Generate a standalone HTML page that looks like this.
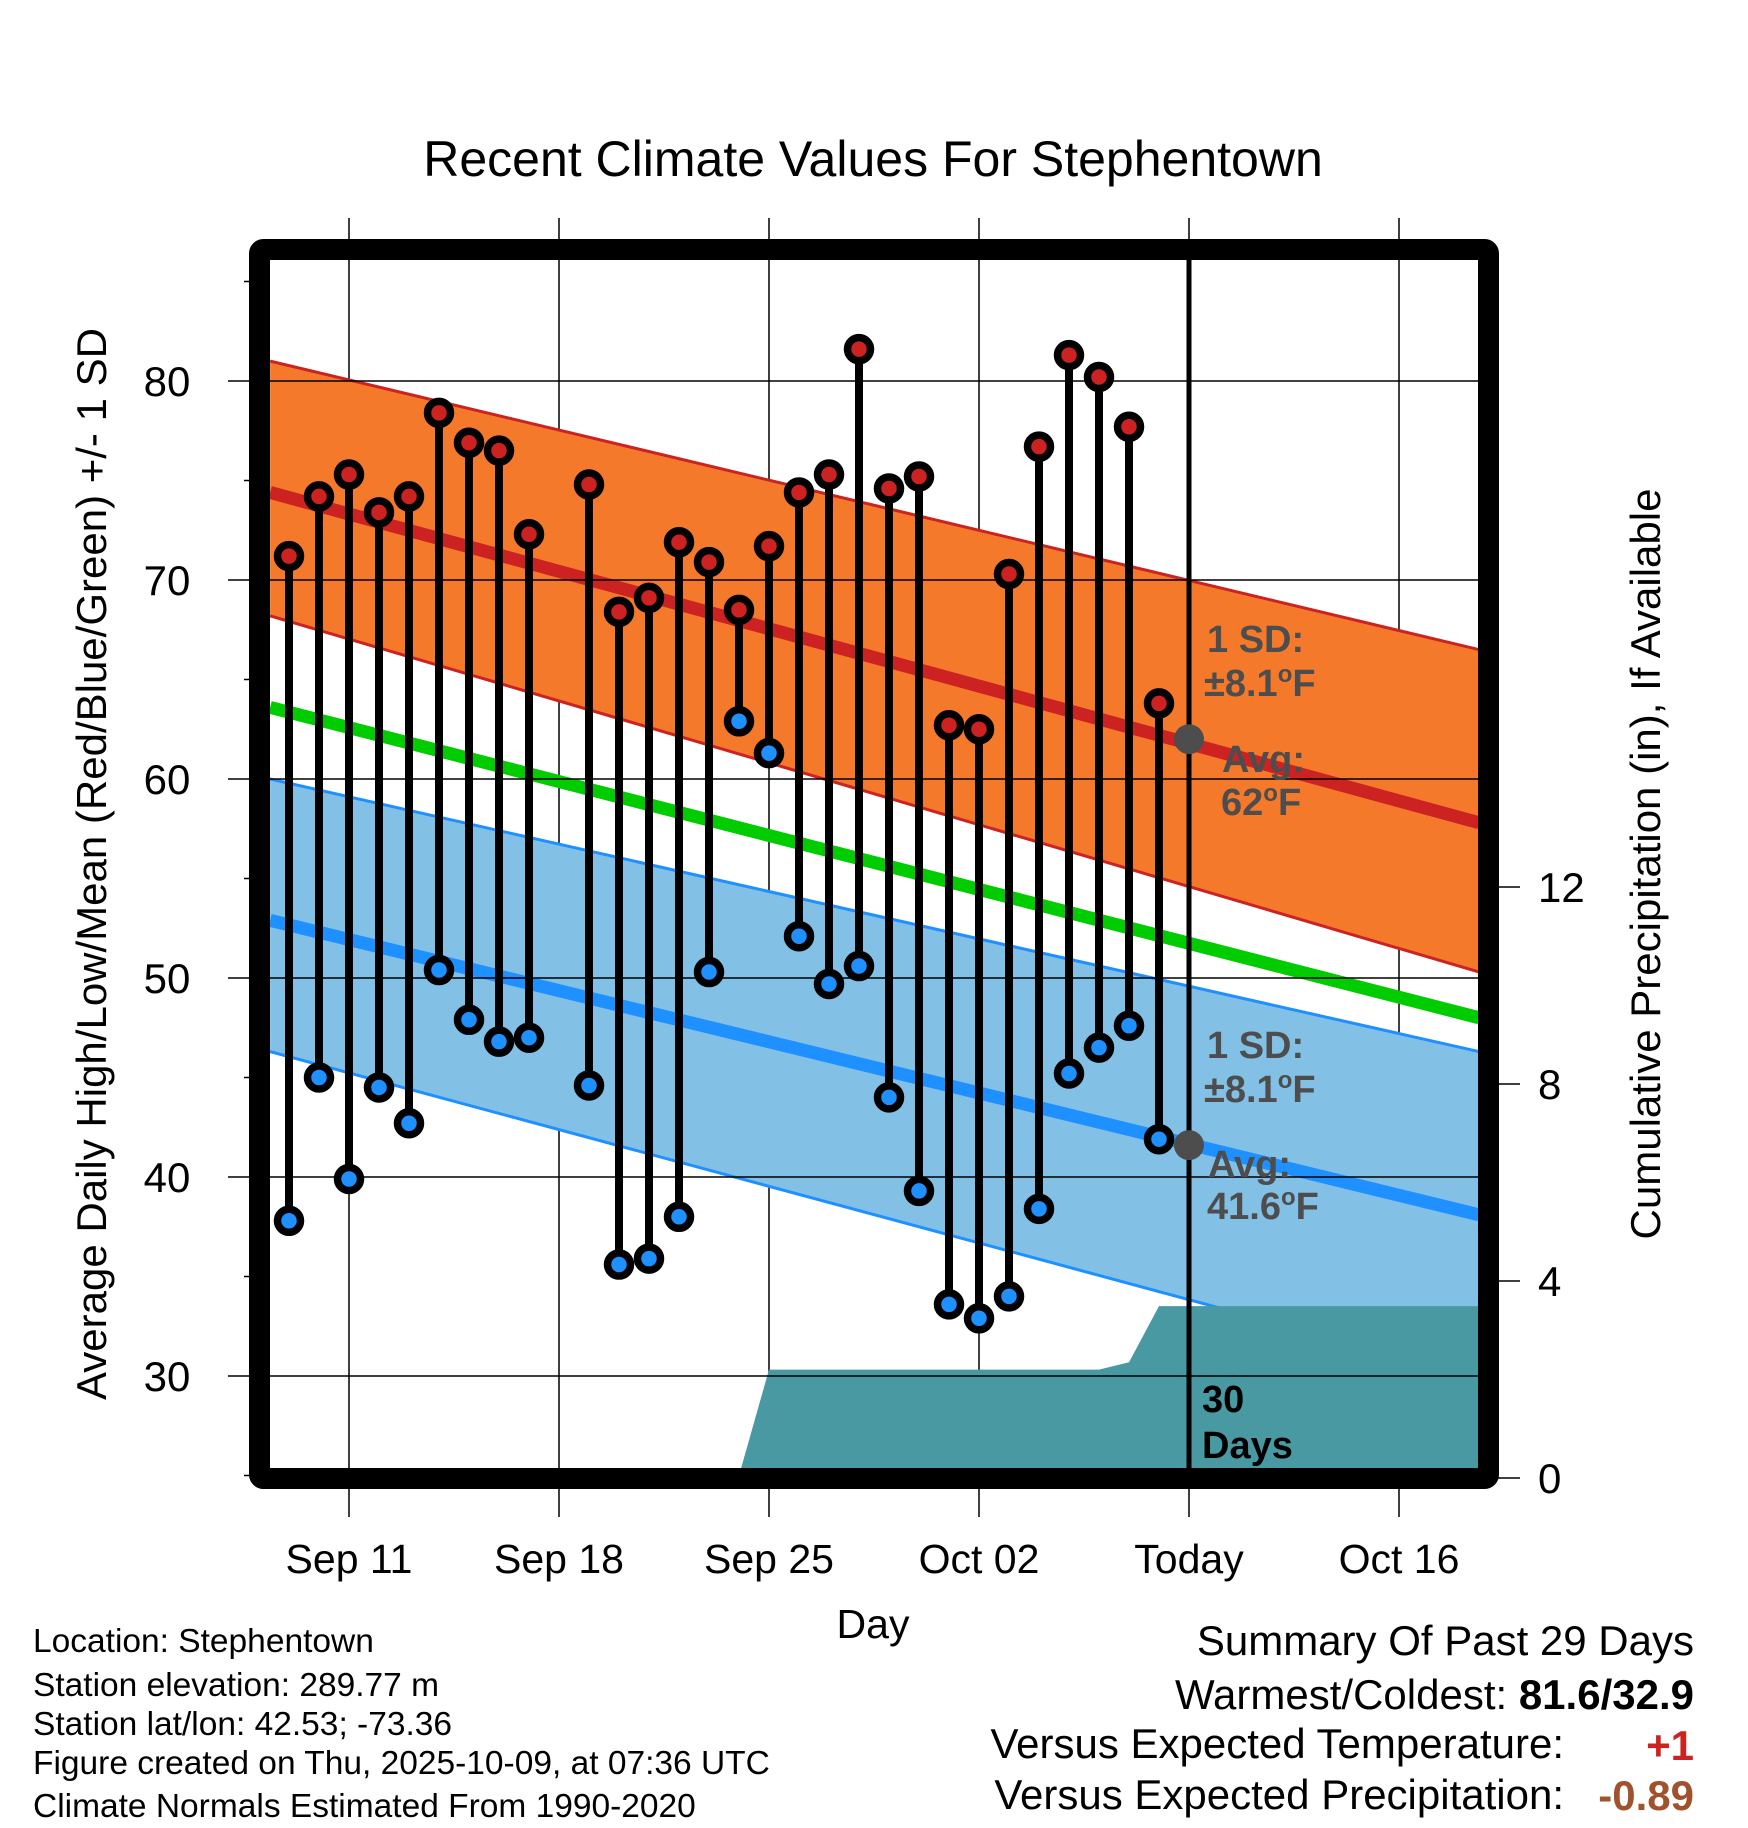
<!DOCTYPE html>
<html><head><meta charset="utf-8"><style>
html,body{margin:0;padding:0;background:#fff}
svg{display:block;font-family:"Liberation Sans",Arial,sans-serif}
</style></head><body>
<svg id="chart" width="1748" height="1828" viewBox="0 0 1748 1828" xmlns="http://www.w3.org/2000/svg">
<defs><clipPath id="plotclip"><rect x="270" y="260" width="1208" height="1208"/></clipPath></defs>
<text x="873" y="176" font-size="50" text-anchor="middle">Recent Climate Values For Stephentown</text>
<g id="grid"></g>
<g id="bands" clip-path="url(#plotclip)"></g>
<g id="precip" clip-path="url(#plotclip)"></g>
<g id="hgrid"></g>
<g id="marks"></g>
<g id="axes"></g>
<g fill="#4d4d4d" font-weight="bold" font-size="38">
<text x="1207" y="652">1 SD:</text><text x="1204" y="696">±8.1<tspan dy="-14" font-size="24">o</tspan><tspan dy="14">F</tspan></text>
<text x="1222" y="772">Avg:</text><text x="1221" y="815">62<tspan dy="-14" font-size="24">o</tspan><tspan dy="14">F</tspan></text>
<text x="1207" y="1058">1 SD:</text><text x="1204" y="1102">±8.1<tspan dy="-14" font-size="24">o</tspan><tspan dy="14">F</tspan></text>
<text x="1208" y="1177">Avg:</text><text x="1207" y="1219">41.6<tspan dy="-14" font-size="24">o</tspan><tspan dy="14">F</tspan></text>
</g>
<g font-weight="bold" font-size="38">
<text x="1202" y="1412">30</text><text x="1202" y="1458">Days</text></g>
<text x="873" y="1638" font-size="41" text-anchor="middle">Day</text>
<text transform="translate(106,864) rotate(-90)" font-size="42" text-anchor="middle">Average Daily High/Low/Mean (Red/Blue/Green) +/- 1 SD</text>
<text transform="translate(1660,864) rotate(-90)" font-size="42" text-anchor="middle">Cumulative Precipitation (in), If Available</text>
<g font-size="33.5">
<text x="33" y="1652">Location: Stephentown</text>
<text x="33" y="1696">Station elevation: 289.77 m</text>
<text x="33" y="1735">Station lat/lon: 42.53; -73.36</text>
<text x="33" y="1774">Figure created on Thu, 2025-10-09, at 07:36 UTC</text>
<text x="33" y="1817">Climate Normals Estimated From 1990-2020</text></g>
<g font-size="42">
<text x="1694" y="1655" text-anchor="end">Summary Of Past 29 Days</text>
<text x="1694" y="1709" text-anchor="end"><tspan>Warmest/Coldest:  </tspan><tspan font-weight="bold">81.6/32.9</tspan></text>
<text x="1564" y="1758" text-anchor="end">Versus Expected Temperature:</text>
<text x="1694" y="1760" text-anchor="end" font-weight="bold" fill="#cc2222">+1</text>
<text x="1564" y="1809" text-anchor="end">Versus Expected Precipitation:</text>
<text x="1694" y="1810" text-anchor="end" font-weight="bold" fill="#a0522d">-0.89</text>
</g>
</svg>
<script>
// Day index 0 = Sep 9
const dayLabels = ["Sep 11","Sep 18","Sep 25","Oct 02","Today","Oct 16"];
const dayTicks = [2,9,16,23,30,37];
const highs = [71.2,74.2,75.3,73.4,74.2,78.4,76.9,76.5,72.3,null,74.8,68.4,69.1,71.9,70.9,68.5,71.7,74.4,75.3,81.6,74.6,75.2,62.7,62.5,70.3,76.7,81.3,80.2,77.7,63.8];
const lows = [37.8,45.0,39.9,44.5,42.7,50.4,47.9,46.8,47.0,null,44.6,35.6,35.9,38.0,50.3,62.9,61.3,52.1,49.7,50.6,44.0,39.3,33.6,32.9,34.0,38.4,45.2,46.5,47.6,41.9];
const normalDays = [-0.63,39.67];
const highMean = [74.4,57.8], highUp=[81.0,66.5], highLo=[68.2,50.3];
const lowMean = [52.9,38.1], lowUp=[60.0,46.3], lowLo=[46.3,29.9];
const avgMean = [63.6,48.0];
const precipDays = [-0.63,13.9,15,16,27,28,29,39.67];
const precipVals = [0,0,0.05,2.2,2.2,2.35,3.49,3.49];
const tempTicks=[30,40,50,60,70,80];
const precipTicks=[0,4,8,12];
const todayHigh=62, todayLow=41.6, todayDay=30;

const NS="http://www.w3.org/2000/svg";
const X=d=>349+(d-2)*30;
const Y=t=>381+(80-t)*19.9;
const P=p=>1478-p*49.25;
function mk(parent,tag,attrs){const e=document.createElementNS(NS,tag);for(const k in attrs)e.setAttribute(k,attrs[k]);document.getElementById(parent).appendChild(e);return e;}
dayTicks.forEach((d,i)=>{
 const l=mk('grid','line',{x1:X(d),x2:X(d),y1:218,y2:1517,stroke:'#000','stroke-width':1.5});
 
 
 const t=mk('axes','text',{x:X(d),y:1573,'font-size':41,'text-anchor':'middle'});
 t.textContent=dayLabels[i];
 
 
});
function band(up,lo,fill,stroke,name){
 const pts=[];normalDays.forEach((d,i)=>pts.push(X(d)+','+Y(up[i])));
 for(let i=normalDays.length-1;i>=0;i--)pts.push(X(normalDays[i])+','+Y(lo[i]));
 const p=mk('bands','polygon',{points:pts.join(' '),fill:fill});
 
 
 [up,lo].forEach(a=>{const l=mk('bands','line',{x1:X(normalDays[0]),y1:Y(a[0]),x2:X(normalDays[1]),y2:Y(a[1]),stroke:stroke,'stroke-width':3});
 
 });
}
function mline(a,color,name){const l=mk('bands','line',{x1:X(normalDays[0]),y1:Y(a[0]),x2:X(normalDays[1]),y2:Y(a[1]),stroke:color,'stroke-width':13});
 
 }
band(highUp,highLo,'#f5792b','#cc2222','high-sd-band');
band(lowUp,lowLo,'#82c0e6','#1e90ff','low-sd-band');
mline(highMean,'#cc2222','high-mean-line');
mline(lowMean,'#1e90ff','low-mean-line');
mline(avgMean,'#00cc00','avg-mean-line');
{const pts=precipDays.map((d,i)=>X(d)+','+P(precipVals[i]));
 pts.push(X(precipDays[precipDays.length-1])+','+P(0));pts.push(X(precipDays[0])+','+P(0));
 const p=mk('precip','polygon',{points:pts.join(' '),fill:'#4899a2'});
 
 }
tempTicks.forEach(t=>{
 const l=mk('hgrid','line',{x1:228,x2:1478,y1:Y(t),y2:Y(t),stroke:'#000','stroke-width':1.5});
 
 
 const tx=mk('axes','text',{x:167,y:Y(t)+15,'font-size':42,'text-anchor':'middle'});
 tx.textContent=t;
 
 
});
for(let t=25;t<=85;t+=5){if(t%10===0)continue;const l=mk('axes','line',{x1:244,x2:270,y1:Y(t),y2:Y(t),stroke:'#000','stroke-width':1.5});
 
 }
precipTicks.forEach(p=>{const l=mk('axes','line',{x1:1490,x2:1520,y1:P(p),y2:P(p),stroke:'#000','stroke-width':1.5});
 
 
 const tx=mk('axes','text',{x:1538,y:P(p)+15,'font-size':42});
 tx.textContent=p;
 
 });
{const l=mk('marks','line',{x1:X(todayDay),x2:X(todayDay),y1:250,y2:1478,stroke:'#000','stroke-width':5});
 
 }
highs.forEach((h,i)=>{if(h==null)return;
 const l=mk('marks','line',{x1:X(i),x2:X(i),y1:Y(h),y2:Y(lows[i]),stroke:'#000','stroke-width':8});
 
 });
highs.forEach((h,i)=>{if(h==null)return;
 const a=mk('marks','circle',{cx:X(i),cy:Y(h),r:11.5,fill:'#cc2222',stroke:'#000','stroke-width':7.5});
 
 
 const b=mk('marks','circle',{cx:X(i),cy:Y(lows[i]),r:11.5,fill:'#1e90ff',stroke:'#000','stroke-width':7.5});
 
 });
[todayHigh,todayLow].forEach(v=>{const c=mk('marks','circle',{cx:X(todayDay),cy:Y(v),r:15,fill:'#4d4d4d'});
 
 });
{const f=mk('axes','rect',{x:259.5,y:249.5,width:1229,height:1229,fill:'none',stroke:'#000','stroke-width':21,rx:4});
 
 }
</script>
</body></html>
